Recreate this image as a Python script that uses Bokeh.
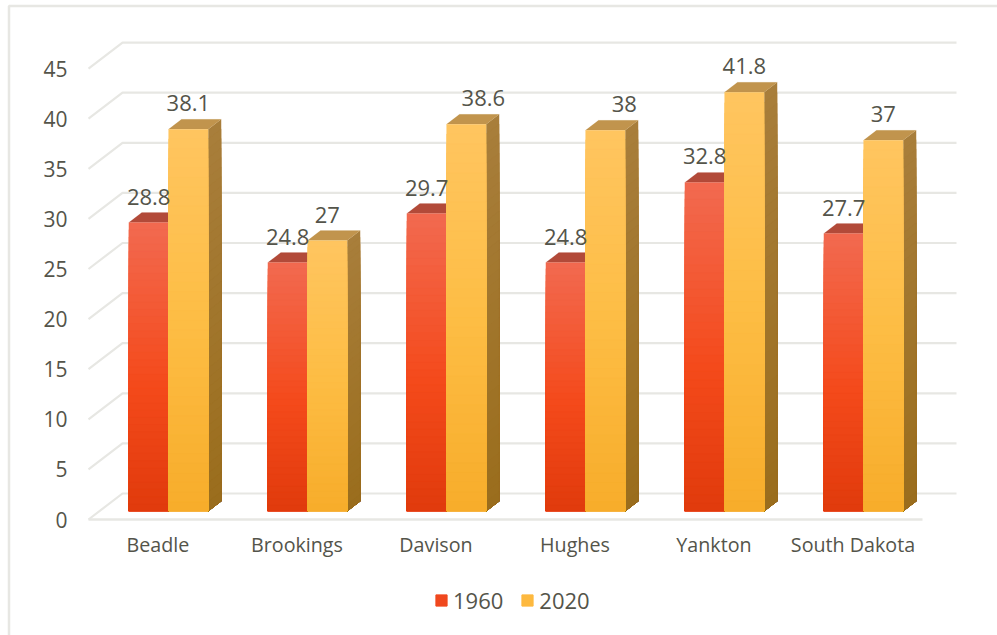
from bokeh.plotting import figure
from bokeh.models import Range1d, FixedTicker, BoxAnnotation, Legend, LegendItem
from bokeh.core.properties import value
from bokeh.embed import file_html
from bokeh.resources import INLINE

categories = ["Beadle", "Brookings", "Davison", "Hughes", "Yankton", "South Dakota"]
values_1960 = [28.8, 24.8, 29.7, 24.8, 32.8, 27.7]
values_2020 = [38.1, 27, 38.6, 38, 41.8, 37]
y_ticks = [0, 5, 10, 15, 20, 25, 30, 35, 40, 45]

FONT = "Open Sans"
TXT = "#54544A"
GRID = "#E7E7E3"
PX_X = 139.0
PX_Y = 10.02
W = 997
H = 635
L = 88
B = 116

x_floor = -0.5
x_start = x_floor - L / PX_X
x_end = x_floor + (W - L) / PX_X
y_start = -B / PX_Y
y_end = (H - B) / PX_Y

p = figure(width=W, height=H, output_backend="svg", toolbar_location=None,
           x_range=Range1d(x_start, x_end), y_range=Range1d(y_start, y_end),
           min_border_left=0, min_border_right=0, min_border_top=0, min_border_bottom=0,
           outline_line_color=None, background_fill_color=None, border_fill_color="white")
p.xgrid.visible = False
p.ygrid.visible = False

p.add_layout(BoxAnnotation(left=8.5, top=5.5, right=1200, bottom=1200, left_units="canvas", top_units="canvas",
                           right_units="canvas", bottom_units="canvas", fill_color=None, fill_alpha=0,
                           line_color=GRID, line_alpha=1, line_width=2.5, level="underlay"))

# axes
p.yaxis.fixed_location = x_floor
p.yaxis.ticker = FixedTicker(ticks=y_ticks)
p.yaxis.major_label_text_font = FONT
p.yaxis.major_label_text_font_size = "21px"
p.yaxis.major_label_text_color = TXT
p.yaxis.major_label_standoff = 15
p.yaxis.axis_line_color = None
p.yaxis.major_tick_line_color = None
p.yaxis.minor_tick_line_color = None
p.xaxis.fixed_location = 0
p.xaxis.ticker = FixedTicker(ticks=list(range(len(categories))))
p.xaxis.major_label_overrides = {i: c for i, c in enumerate(categories)}
p.xaxis.major_label_text_font = FONT
p.xaxis.major_label_text_font_size = "19.7px"
p.xaxis.major_label_text_color = TXT
p.xaxis.major_label_standoff = 5
p.xaxis.axis_line_color = None
p.xaxis.major_tick_line_color = None
p.xaxis.minor_tick_line_color = None

# wall, floor
wall_dx = 34 / PX_X
wall_dy = 26 / PX_Y
n = len(categories)
gx = [[x_floor, x_floor + wall_dx, x_floor + n + wall_dx] for _ in y_ticks]
gy = [[t, t + wall_dy, t + wall_dy] for t in y_ticks]
p.multi_line(gx, gy, line_color=GRID, line_width=2.2)
p.line([x_floor, x_floor + n], [0, 0], line_color=GRID, line_width=2.5)

# bars
bar_w = 39.7 / PX_X
bar_dx = 10.5 / PX_X
bar_dy = 8.4 / PX_Y
dep_x = 13 / PX_X
dep_y = 10 / PX_Y
STRIPS = 40


def hex2(c):
    return [int(c[i:i + 2], 16) for i in (1, 3, 5)]


def grad(stops, t):
    for (t0, c0), (t1, c1) in zip(stops, stops[1:]):
        if t <= t1:
            f = (t - t0) / (t1 - t0)
            a, b = hex2(c0), hex2(c1)
            return "#%02x%02x%02x" % tuple(round(a[i] + (b[i] - a[i]) * f) for i in range(3))
    return stops[-1][1]


FRONT_1960 = [(0, "#E03A0C"), (0.45, "#F44A1B"), (1, "#F2694F")]
FRONT_2020 = [(0, "#F7AC2A"), (0.5, "#FDBD44"), (1, "#FFC55F")]
SIDE_1960 = [(0, "#9A2E0C"), (1, "#A8412E")]
SIDE_2020 = [(0, "#9A6D1C"), (1, "#A87E3B")]
TOP_1960 = "#B24A39"
TOP_2020 = "#C1944D"


def draw(vals, shift, front, side, top):
    for i, v in enumerate(vals):
        x0 = i + bar_dx + shift * bar_w
        x1 = x0 + bar_w
        y0 = bar_dy
        # side face, tallest strip first
        for k in range(STRIPS, 0, -1):
            f = k / STRIPS
            yt = y0 + v * f
            c = grad(side, f)
            p.patch([x1, x1 + dep_x, x1 + dep_x, x1], [y0, y0 + dep_y, yt + dep_y, yt], color=c, line_color=c, line_width=0.1)
        p.patch([x0, x0 + dep_x, x1 + dep_x, x1], [y0 + v, y0 + v + dep_y, y0 + v + dep_y, y0 + v], color=top, line_color=top, line_width=0.1)
        for k in range(STRIPS, 0, -1):
            f = k / STRIPS
            c = grad(front, f)
            p.quad(left=[x0], right=[x1], bottom=[y0], top=[y0 + v * f], color=c, line_color=c, line_width=0.1)


draw(values_1960, -1, FRONT_1960, SIDE_1960, TOP_1960)
draw(values_2020, 0, FRONT_2020, SIDE_2020, TOP_2020)

# data labels; the reference moves two 2020 labels to the right of their bars
nudge_2020 = [0, 0, 17, 0, 0, 0]
nudge_2020[3] = 19
lab_x = [i + bar_dx - bar_w / 2 for i in range(n)] + [i + bar_dx + bar_w / 2 + nudge_2020[i] / PX_X for i in range(n)]
vals = values_1960 + values_2020
lab_y = [v + bar_dy for v in vals]
lab_t = [str(v) for v in vals]
p.text(lab_x, lab_y, text=lab_t, text_font=value(FONT), text_font_size="22px", text_color=TXT,
       text_align="center", text_baseline="middle", y_offset=-26)

leg_60 = p.quad(left=[0], right=[0], bottom=[0], top=[0], color="#F0481E")
leg_20 = p.quad(left=[0], right=[0], bottom=[0], top=[0], color="#FDB93F")
legend = Legend(items=[LegendItem(label="1960", renderers=[leg_60]), LegendItem(label="2020", renderers=[leg_20])],
                orientation="horizontal", location=(434, 20), glyph_width=14, glyph_height=14,
                label_text_font=FONT, label_text_font_size="22px", label_text_color=TXT,
                border_line_color=None, background_fill_alpha=0, padding=0, margin=0, spacing=17, label_standoff=5)
p.add_layout(legend)

open("out.html", "w").write(file_html(p, INLINE))
